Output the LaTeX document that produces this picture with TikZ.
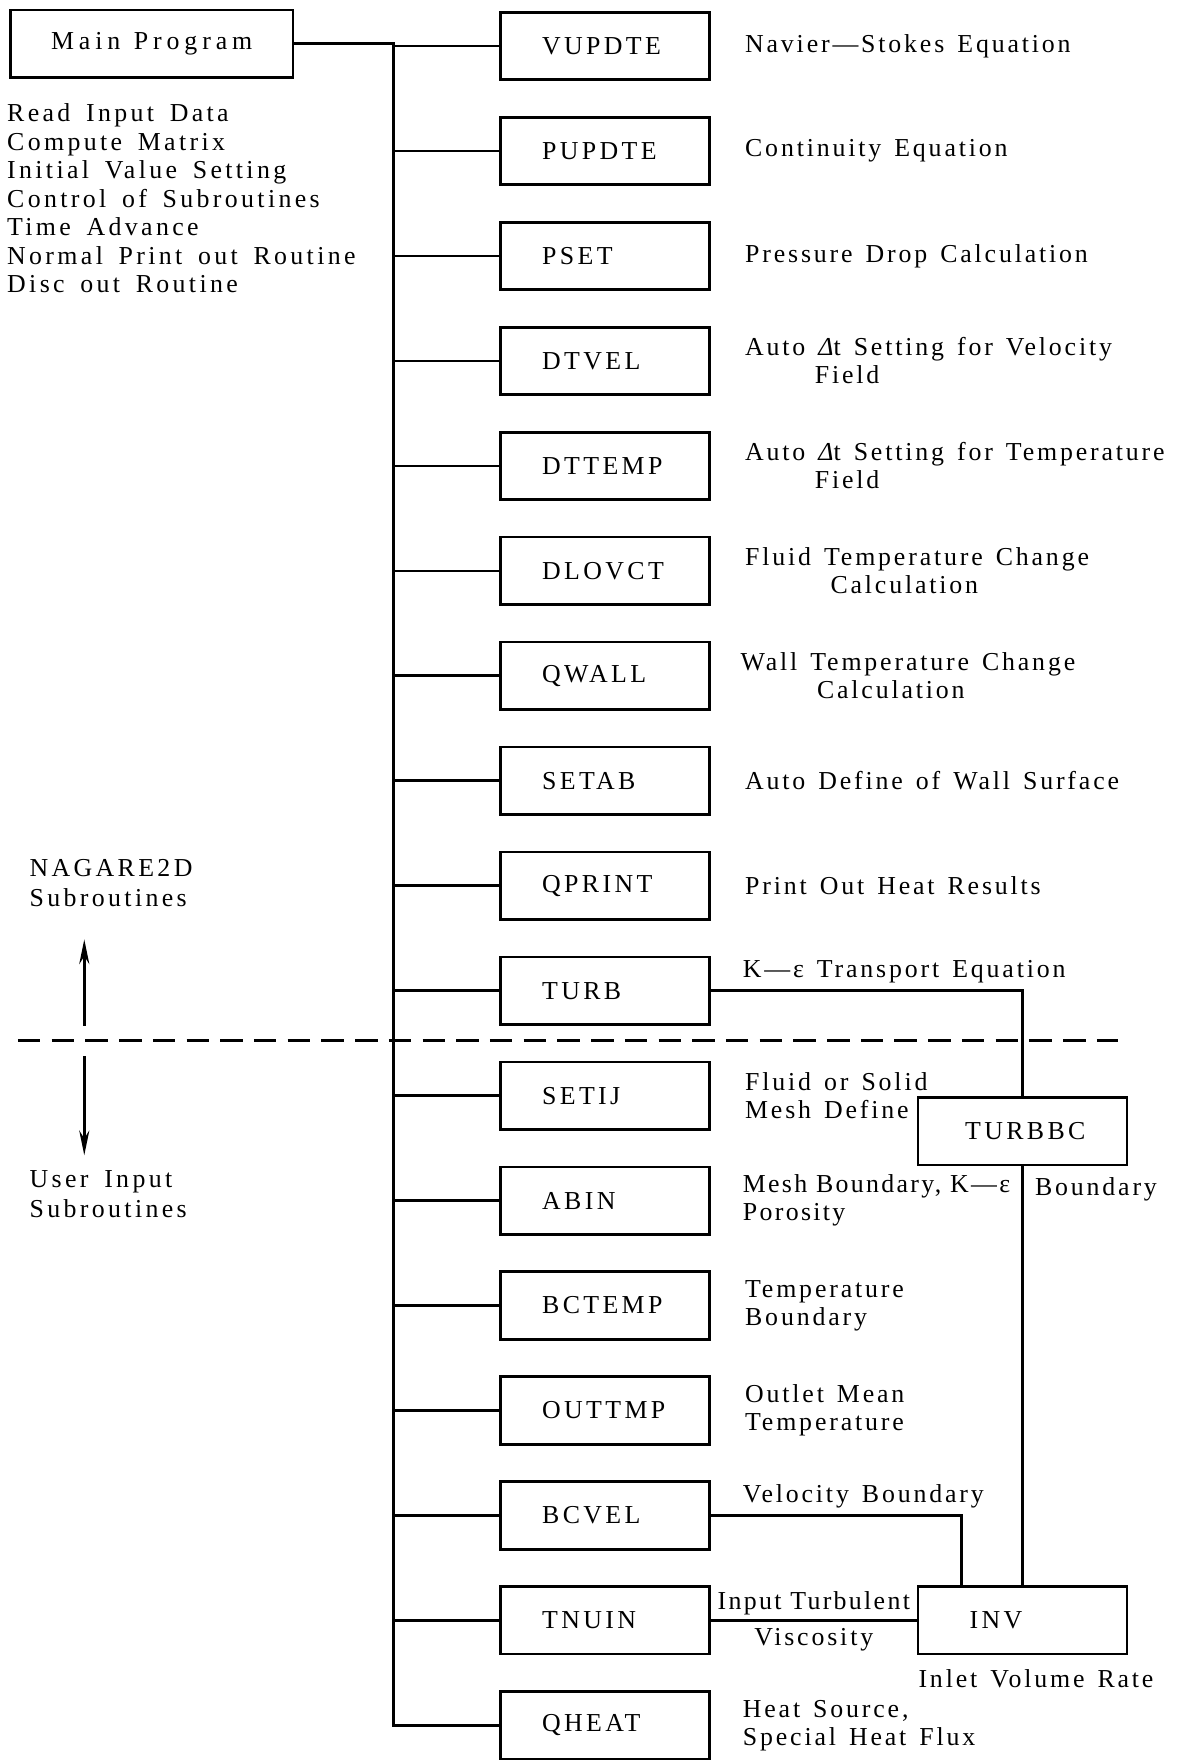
\documentclass[tikz,border=0pt]{standalone}
\usepackage{fontspec}
\setmainfont[LetterSpace=13, WordSpace=1.6]{Liberation Serif}
\newfontfamily\descfont[LetterSpace=11, WordSpace=1.4]{Liberation Serif}
\newfontfamily\tightfont[LetterSpace=9]{Liberation Serif}
\newfontfamily\widefont[LetterSpace=19]{Liberation Serif}
\usetikzlibrary{arrows.meta, positioning}

\begin{document}
\begin{tikzpicture}[
    x=0.5pt, y=-0.5pt,
    node distance=15.5pt and 13pt,
    prog/.style={
        draw,
        line width=1.2pt,
        align=left,
        text width=56pt,
        inner xsep=18.5pt,
        minimum height=30pt,
        font=\fontsize{11.5}{12.5}\selectfont
    },
    desc/.style={
        align=left,
        inner sep=2pt,
        font=\fontsize{11.5}{12.5}\selectfont\descfont
    },
    side/.style={
        align=left,
        inner sep=0pt,
        font=\fontsize{11.5}{13.3}\selectfont
    },
    link/.style={
        line width=1.2pt,
        draw=black
    },
    divider/.style={
        line width=1.2pt,
        dash pattern=on 10pt off 5pt
    },
    updown/.style={
        -{Stealth[length=11pt,width=4.5pt]},
        line width=1.1pt
    }
]
\useasboundingbox (0,0) rectangle (1063,1568);

% Main program and its tasks
\node (main) [prog, align=center, text width=95pt, inner xsep=15.4pt,
    font=\fontsize{11.5}{12.5}\selectfont\widefont] at (135,39) {Main\hspace{6pt}Program};
\node (tasks) [side, below=11pt of main.south west, anchor=north west, xshift=-1pt,
    font=\fontsize{11.5}{12.65}\selectfont] {Read Input Data\\Compute Matrix\\Initial Value Setting\\Control of Subroutines\\Time Advance\\Normal Print out Routine\\Disc out Routine};

% Group labels
\node (nagare) [side, anchor=west] at (26,786) {NAGARE2D\\Subroutines};
\node (userin) [side, anchor=west] at (26,1063) {User Input\\Subroutines};
\coordinate (uptail) at (75,913);
\coordinate (uphead) at (75,836);
\coordinate (downtail) at (75,940);
\coordinate (downhead) at (75,1028);
\coordinate (divleft) at (16,926);
\coordinate (divright) at (995,926);
\coordinate (spine) at (350,0);

% Subroutines
\node (vupdte) [prog] at (538.5,41) {VUPDTE};
\node (pupdte) [prog, below=of vupdte] {PUPDTE};
\node (pset) [prog, below=of pupdte] {PSET};
\node (dtvel) [prog, below=of pset] {DTVEL};
\node (dttemp) [prog, below=of dtvel] {DTTEMP};
\node (dlovct) [prog, below=of dttemp] {DLOVCT};
\node (qwall) [prog, below=of dlovct] {QWALL};
\node (setab) [prog, below=of qwall] {SETAB};
\node (qprint) [prog, below=of setab] {QPRINT};
\node (turb) [prog, below=of qprint] {TURB};
\node (setij) [prog, below=of turb] {SETIJ};
\node (abin) [prog, below=of setij] {ABIN};
\node (bctemp) [prog, below=of abin] {BCTEMP};
\node (outtmp) [prog, below=of bctemp] {OUTTMP};
\node (bcvel) [prog, below=of outtmp] {BCVEL};
\node (tnuin) [prog, below=of bcvel] {TNUIN};
\node (qheat) [prog, below=of tnuin] {QHEAT};
\node (inv) [prog, right=91.5pt of tnuin, inner xsep=23pt, text width=47pt] {INV};
\node (turbbc) [prog, above=186.5pt of inv, inner xsep=21pt, text width=51pt] {TURBBC};

% Descriptions
\node (vupdtetxt) [desc, right=of vupdte] {Navier—Stokes Equation};
\node (pupdtetxt) [desc, right=of pupdte] {Continuity Equation};
\node (psettxt) [desc, right=of pset] {Pressure Drop Calculation};
\node (dtveltxt) [desc, right=of dtvel] {Auto {\itshape Δ}t Setting for Velocity\\\hspace*{31pt}Field};
\node (dttemptxt) [desc, right=of dttemp] {Auto {\itshape Δ}t Setting for Temperature\\\hspace*{31pt}Field};
\node (dlovcttxt) [desc, right=of dlovct] {Fluid Temperature Change\\\hspace*{38pt}Calculation};
\node (qwalltxt) [desc, right=11pt of qwall] {Wall Temperature Change\\\hspace*{34pt}Calculation};
\node (setabtxt) [desc, right=of setab] {Auto Define of Wall Surface};
\node (qprinttxt) [desc, right=of qprint] {Print Out Heat Results};
\node (turbtxt) [desc, above right=1pt and 12pt of turb.east] {K—ε Transport Equation};
\node (setijtxt) [desc, right=of setij] {Fluid or Solid\\Mesh Define};
\node (abintxt) [desc, right=12pt of abin, font=\fontsize{11.5}{12.5}\selectfont\tightfont] {Mesh Boundary, K—ε\\Porosity};
\node (bctemptxt) [desc, right=of bctemp] {Temperature\\Boundary};
\node (outtmptxt) [desc, right=of outtmp] {Outlet Mean\\Temperature};
\node (bcveltxt) [desc, above right=1pt and 12pt of bcvel.east] {Velocity Boundary};
\node (qheattxt) [desc, right=12pt of qheat] {Heat Source,\\Special Heat Flux};
\node (invtxt) [desc, below=4pt of inv, xshift=6pt] {Inlet Volume Rate};

% Paths
\draw [link] (main.east) -- (main.east -| spine) |- (qheat.west);
\draw [link] (spine |- vupdte.west) -- (vupdte.west);
\draw [link] (spine |- pupdte.west) -- (pupdte.west);
\draw [link] (spine |- pset.west) -- (pset.west);
\draw [link] (spine |- dtvel.west) -- (dtvel.west);
\draw [link] (spine |- dttemp.west) -- (dttemp.west);
\draw [link] (spine |- dlovct.west) -- (dlovct.west);
\draw [link] (spine |- qwall.west) -- (qwall.west);
\draw [link] (spine |- setab.west) -- (setab.west);
\draw [link] (spine |- qprint.west) -- (qprint.west);
\draw [link] (spine |- turb.west) -- (turb.west);
\draw [link] (spine |- setij.west) -- (setij.west);
\draw [link] (spine |- abin.west) -- (abin.west);
\draw [link] (spine |- bctemp.west) -- (bctemp.west);
\draw [link] (spine |- outtmp.west) -- (outtmp.west);
\draw [link] (spine |- bcvel.west) -- (bcvel.west);
\draw [link] (spine |- tnuin.west) -- (tnuin.west);
\draw [link] (turb.east) -| (turbbc.north);
\draw [link] (turbbc.south) -- node[desc, right, pos=0.055, xshift=3pt] {Boundary} (inv.north);
\draw [link] (bcvel.east) -| ([xshift=20pt]inv.north west);
\draw [link] (tnuin.east) -- node[desc, above, font=\fontsize{11.5}{12.5}\selectfont\tightfont] {Input Turbulent} node[desc, below, yshift=-1pt] {Viscosity} (inv.west);
\draw [divider] (divleft) -- (divright);
\draw [updown] (uptail) -- (uphead);
\draw [updown] (downtail) -- (downhead);

\end{tikzpicture}
\end{document}
